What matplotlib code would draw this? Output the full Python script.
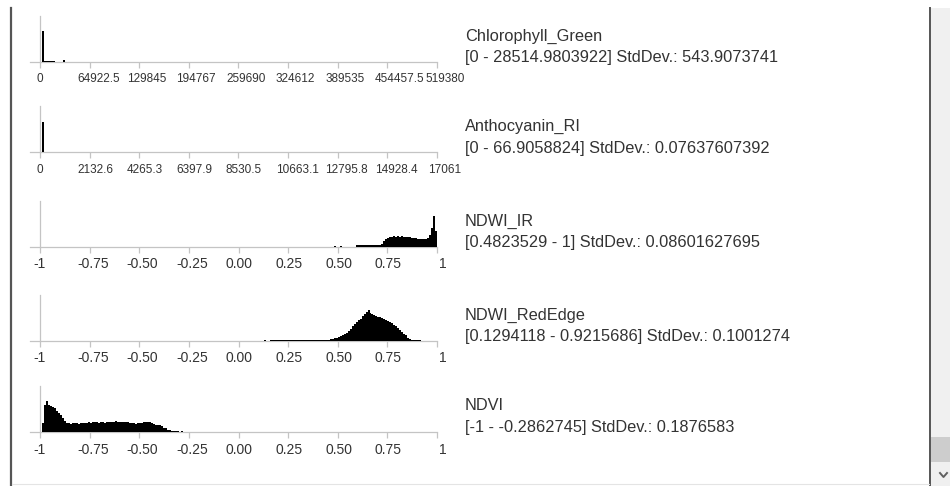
import numpy as np
import matplotlib
matplotlib.use("Agg")
import matplotlib.pyplot as plt
from matplotlib.patches import Rectangle
from matplotlib.transforms import ScaledTranslation

# ---------------- data ----------------
band_names = ["Chlorophyll_Green", "Anthocyanin_RI", "NDWI_IR", "NDWI_RedEdge", "NDVI"]
band_ranges = [
    "[0 - 28514.9803922] StdDev.: 543.9073741",
    "[0 - 66.9058824] StdDev.: 0.07637607392",
    "[0.4823529 - 1] StdDev.: 0.08601627695",
    "[0.1294118 - 0.9215686] StdDev.: 0.1001274",
    "[-1 - -0.2862745] StdDev.: 0.1876583",
]
axis_min = [0, 0, -1, -1, -1]
axis_max = [519380, 17061, 1, 1, 1]
tick_labels_chl = ["0", "64922.5", "129845", "194767", "259690", "324612", "389535", "454457.5", "519380"]
tick_labels_ant = ["0", "2132.6", "4265.3", "6397.9", "8530.5", "10663.1", "12795.8", "14928.4", "17061"]
tick_labels_idx = ["-1", "-0.75", "-0.50", "-0.25", "0.00", "0.25", "0.50", "0.75", "1"]

# histogram bins: first bin start, bin width, bin heights (relative counts)
chl_start, chl_width = 0, 2500
chl_counts = [0, 31, 1, 1, 1, 1, 1, 1, 0, 0, 0, 0, 1.5]

ant_start, ant_width = 0, 86
ant_counts = [0, 30]

ndwi_ir_start, ndwi_ir_width = 0.48, 0.01
ndwi_ir_counts = [1, 0, 0, 1, 0, 0, 0, 0, 0, 0, 0,
                  2, 2, 2, 2, 2,
                  1.5, 1.5, 1.5, 1.5, 1.5, 1.5, 1.5, 1.5,
                  3, 5.5, 7.5, 8.5, 9.5, 10, 10.5, 10, 10.5, 10, 10.5, 10, 9.5, 10,
                  9.5, 9, 9, 8.5, 8, 7.5, 7.5, 7.5, 7.5, 8.5, 12, 19, 31, 16]

ndwi_re_start, ndwi_re_width = 0.13, 0.01
ndwi_re_counts = [1, 0, 0,
                  1.5, 1.5, 1.5, 1.5, 1.5, 1.5,
                  1, 1, 1, 1, 1, 1, 1, 1, 1, 1, 1, 1, 1, 1, 1, 1, 1, 1, 1, 1, 1, 1, 1, 1,
                  2, 2.5, 3, 3.5, 4.5, 5.5, 6.5, 7.5, 8.5, 10.5, 12.5, 15, 17, 19, 21, 22.5,
                  25, 27, 29, 31,
                  28, 27.5, 26.5, 25.5, 24.5, 24, 23, 22, 21, 20.5, 19.5, 18, 16.5, 15.5,
                  13, 11, 9.5, 7.5, 6, 3.5, 2,
                  1.5, 1.5, 1.5, 1.5, 1.5]

ndvi_start, ndvi_width = -1.0, 0.01
ndvi_counts = [0, 9, 27, 31, 27, 26, 25, 24, 21, 19, 17, 14, 11, 9.5,
               9, 8.5, 9, 9.5, 9, 8.5, 9, 9.5, 9, 9.5,
               10, 9.5, 10.5, 10, 10, 9.5, 10.5, 10, 9.5, 10, 10.5, 10,
               10.5, 10.5, 11, 10, 10.5, 10.5, 10, 10.5, 10, 9.5,
               9, 9, 8.5, 9, 9, 9.5,
               10, 10.5, 10.5, 10, 9.5,
               8, 7.5, 7.5, 7, 6.5,
               4.5, 4,
               2, 2, 1.5, 1.5, 1.5, 1.5,
               0, 1.5]

hist_starts = [chl_start, ant_start, ndwi_ir_start, ndwi_re_start, ndvi_start]
hist_widths = [chl_width, ant_width, ndwi_ir_width, ndwi_re_width, ndvi_width]
hist_counts = [chl_counts, ant_counts, ndwi_ir_counts, ndwi_re_counts, ndvi_counts]
tick_label_sets = [tick_labels_chl, tick_labels_ant, tick_labels_idx, tick_labels_idx, tick_labels_idx]

# ---------------- layout (pixels) ----------------
W, H = 950, 486
fig = plt.figure(figsize=(W / 100, H / 100), dpi=100)
fig.patch.set_facecolor("white")


def fx(x):
    return x / W


def fy(y):
    return 1 - y / H


baselines = [62, 152.5, 247, 341, 432]
ax_h = 46                # pixels from baseline to top of y axis
x0_px, x1_px = 40, 437   # position of axis min / max
left_pad = 10
axis_col = "#c4c4c4"
text_col = "#333333"
FONT = "Liberation Sans"
tick_fs = [8.5, 8.5, 10, 10, 10]
last_right_px = [465, 461.5, None, None, None]   # right end of the last, long labels
label_dy = -17.5         # label centre below baseline, px

for i in range(5):
    b = baselines[i]
    vmin, vmax = axis_min[i], axis_max[i]
    span = vmax - vmin
    ax = fig.add_axes([fx(x0_px - left_pad), fy(b), fx(x1_px - x0_px + left_pad), ax_h / H])
    ax.set_xlim(vmin - span * left_pad / (x1_px - x0_px), vmax)
    ax.set_ylim(0, ax_h)
    ax.patch.set_alpha(0)
    for s in ["top", "right", "left"]:
        ax.spines[s].set_visible(False)
    ax.spines["bottom"].set_color(axis_col)
    ax.spines["bottom"].set_linewidth(0.9)
    ax.set_yticks([])
    ticks = [vmin + span * k / 8 for k in range(9)]
    ax.set_xticks(ticks)
    ax.set_xticklabels([])
    ax.tick_params(axis="x", direction="out", length=4, width=0.9, color=axis_col)
    # y axis line
    ax.plot([vmin, vmin], [0, ax_h], color=axis_col, lw=0.9, clip_on=False, zorder=1)
    # histogram
    counts = np.array(hist_counts[i], dtype=float)
    edges = hist_starts[i] + hist_widths[i] * np.arange(len(counts) + 1)
    ax.stairs(counts, edges, fill=True, color="black", zorder=3)

    # tick labels placed like the original widget
    labels = tick_label_sets[i]
    base_tr = ax.get_xaxis_transform()
    n = len(labels)
    for k, (t, lab) in enumerate(zip(ticks, labels)):
        if k == n - 1:
            if last_right_px[i] is not None:
                dx, ha = last_right_px[i] - x1_px, "right"
            else:
                dx, ha = 6, "center"
        elif len(lab) <= 2:
            dx, ha = 0, "center"
        else:
            dx, ha = -12.5, "left"
        tr = base_tr + ScaledTranslation(dx / 100, label_dy / 100, fig.dpi_scale_trans)
        ax.text(t, 0, lab, transform=tr, ha=ha, va="center", fontsize=tick_fs[i],
                color=text_col, family=FONT, clip_on=False)

    # right-hand text
    fig.text(fx(465), fy(b - 26), band_names[i], fontsize=11.8, color=text_col,
             family=FONT, va="center", ha="left")
    fig.text(fx(465), fy(b - 4.5), band_ranges[i], fontsize=11.8, color=text_col,
             family=FONT, va="center", ha="left")

# ---------------- window chrome ----------------
overlay = fig.add_axes([0, 0, 1, 1])
overlay.set_xlim(0, W)
overlay.set_ylim(H, 0)
overlay.axis("off")
overlay.patch.set_alpha(0)
overlay.add_patch(Rectangle((931, 8), 19, 478, facecolor="#f0f0f0", edgecolor="none"))
overlay.add_patch(Rectangle((931, 437), 19, 25, facecolor="#cdcdcd", edgecolor="none"))
overlay.plot([940, 943.5, 947], [473, 477, 473], color="#606060", lw=1.4)
overlay.plot([11, 11], [8, 486], color="#555555", lw=1.6)
overlay.plot([930, 930], [8, 486], color="#555555", lw=1.4)
overlay.plot([12, 929], [484, 484], color="#e4e4e4", lw=0.8)

fig.savefig("out.png", dpi=100, facecolor="white")
